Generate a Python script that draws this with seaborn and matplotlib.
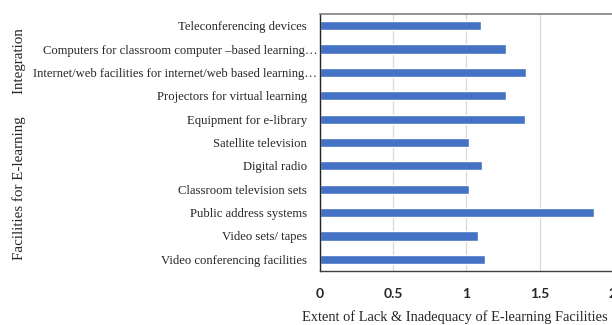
import matplotlib
matplotlib.use("Agg")
import matplotlib.pyplot as plt
import matplotlib.transforms as mtransforms
import seaborn as sns
import pandas as pd

categories = [
    "Teleconferencing devices",
    "Computers for classroom computer \u2013based learning\u2026",
    "Internet/web facilities for internet/web based learning\u2026",
    "Projectors for virtual learning",
    "Equipment for e-library",
    "Satellite television",
    "Digital radio",
    "Classroom television sets",
    "Public address systems",
    "Video sets/ tapes",
    "Video conferencing facilities",
]
values = [1.10, 1.27, 1.41, 1.27, 1.40, 1.02, 1.11, 1.02, 1.87, 1.08, 1.13]
xticks = [0, 0.5, 1, 1.5, 2]
xtick_labels = ["0", "0.5", "1", "1.5", "2"]

df = pd.DataFrame({"facility": categories, "value": values})

sns.set_style("white")
plt.rcParams["font.family"] = ["Liberation Serif", "DejaVu Serif"]

W, H = 612, 325
fig = plt.figure(figsize=(W / 100, H / 100), dpi=100)
x0, x1 = 319.7, 613.0
y0, y1 = 14.0, 271.0
ax = fig.add_axes([x0 / W, 1 - y1 / H, (x1 - x0) / W, (y1 - y0) / H])

sns.barplot(data=df, x="value", y="facility", orient="h", color="#4472C4",
            saturation=1, width=0.39, ax=ax, zorder=2)

ax.set_xlim(0, 2)
ax.set_ylim(10.5, -0.5)
ax.set_xticks(xticks)
ax.set_xticklabels(xtick_labels, fontfamily="Lato", fontweight="bold", fontsize=10)
ax.tick_params(axis="x", length=0, pad=12)
ax.tick_params(axis="y", length=0, pad=9, labelsize=9.1)
ax.grid(axis="x", color="#d9d9d9", linewidth=0.9, zorder=0)
ax.grid(axis="y", visible=False)
ax.set_axisbelow(True)

# truncated (ellipsis) labels sit closer to the axis, as in the reference
shift = mtransforms.ScaledTranslation(10 / 100, 0, fig.dpi_scale_trans)
for lab in ax.get_yticklabels():
    if lab.get_text().endswith("\u2026"):
        lab.set_transform(lab.get_transform() + shift)

ax.spines["top"].set_color("#7f7f7f")
ax.spines["top"].set_linewidth(1.2)
ax.spines["left"].set_color("#262626")
ax.spines["left"].set_linewidth(1.0)
ax.spines["bottom"].set_color("#404040")
ax.spines["bottom"].set_linewidth(1.0)
ax.spines["right"].set_visible(False)
for s in ax.spines.values():
    s.set_zorder(4)

ax.set_xlabel("Extent of Lack & Inadequacy of E-learning Facilities", fontsize=10.4)
ax.set_ylabel("Facilities for E-learning      Integration", fontsize=10.8)
ax.xaxis.set_label_coords((455 - x0) / (x1 - x0), -(317 - y1) / (y1 - y0), transform=ax.transAxes)
ax.xaxis.label.set_va("center")
ax.yaxis.set_label_coords(-(x0 - 19) / (x1 - x0), (271 - 144) / (y1 - y0))
ax.yaxis.label.set_va("center")

fig.savefig("out.png", dpi=100)
